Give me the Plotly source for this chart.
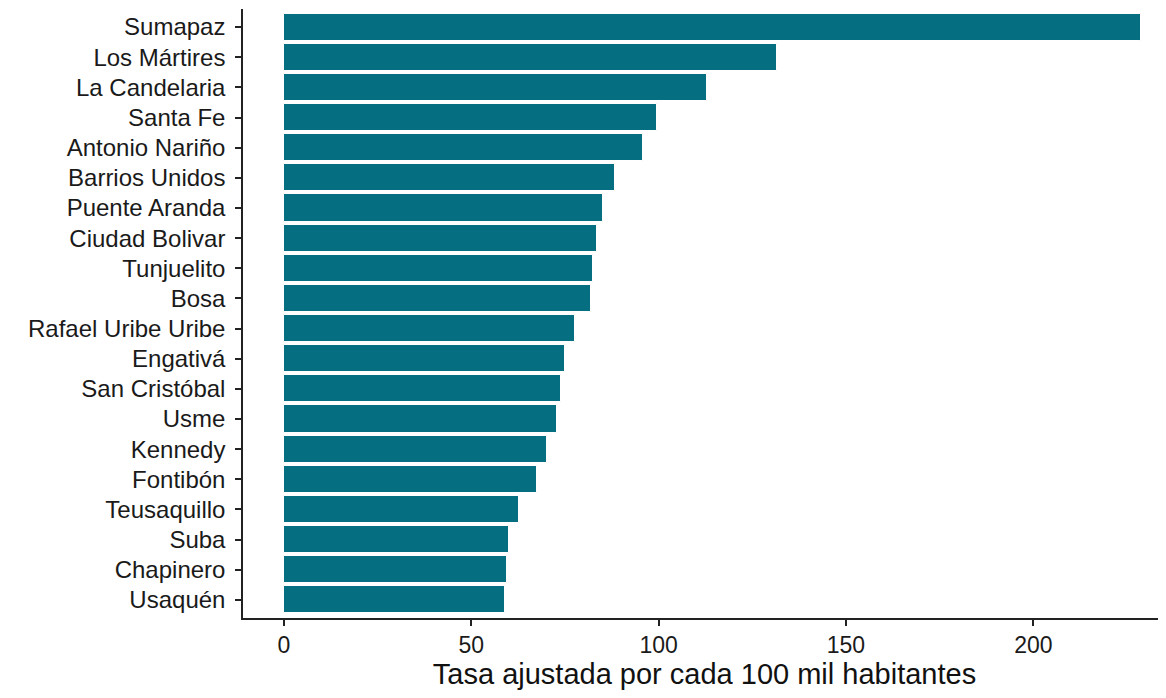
import plotly.graph_objects as go

localidades = [
    "Sumapaz", "Los Mártires", "La Candelaria", "Santa Fe", "Antonio Nariño",
    "Barrios Unidos", "Puente Aranda", "Ciudad Bolivar", "Tunjuelito", "Bosa",
    "Rafael Uribe Uribe", "Engativá", "San Cristóbal", "Usme", "Kennedy",
    "Fontibón", "Teusaquillo", "Suba", "Chapinero", "Usaquén",
]
tasas = [
    228.7, 131.5, 112.9, 99.5, 95.8,
    88.4, 85.1, 83.5, 82.4, 81.9,
    77.6, 75.0, 73.9, 72.8, 70.2,
    67.5, 62.7, 60.0, 59.5, 59.0,
]
x_ticks = [0, 50, 100, 150, 200]
x_title = "Tasa ajustada por cada 100 mil habitantes"

bar_color = "#056E80"
font_family = "Liberation Sans, Arial, sans-serif"

fig = go.Figure(
    go.Bar(
        x=tasas,
        y=localidades,
        orientation="h",
        width=0.9,
        marker=dict(color=bar_color, line=dict(color="white", width=1)),
    )
)

# The page body has an 8px margin, so the figure is 8px smaller on each axis
fig.update_layout(
    width=1158,
    height=690,
    margin=dict(l=235, r=0, t=1, b=80, autoexpand=False),
    paper_bgcolor="white",
    plot_bgcolor="white",
    showlegend=False,
    font=dict(family=font_family, color="#1a1a1a"),
    bargap=0,
)

fig.update_xaxes(
    range=[-10.9, 235.4],
    tickvals=x_ticks,
    ticks="outside",
    ticklen=6,
    tickwidth=1.5,
    tickcolor="#222",
    showline=True,
    linecolor="#222",
    linewidth=1.5,
    showgrid=False,
    zeroline=False,
    tickfont=dict(size=23, color="#1a1a1a"),
    title=dict(text=x_title, font=dict(size=29, color="#111"), standoff=6),
)

fig.update_yaxes(
    categoryorder="array",
    categoryarray=localidades,
    range=[19.6, -0.6],
    ticks="outside",
    ticklen=6,
    tickwidth=1.5,
    tickcolor="#222",
    showline=True,
    linecolor="#222",
    linewidth=1.5,
    showgrid=False,
    zeroline=False,
    ticklabelstandoff=5,
    tickfont=dict(size=24, color="#1a1a1a"),
)

fig.write_html("out.html")
